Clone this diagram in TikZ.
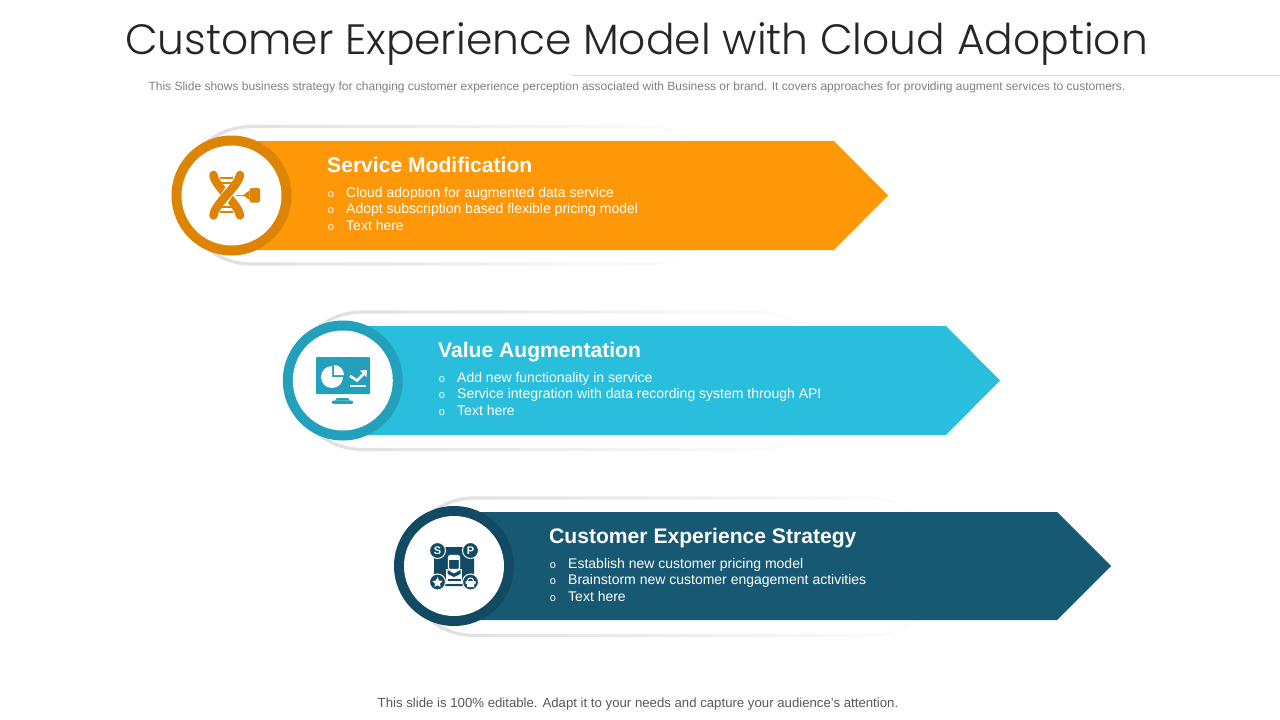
\documentclass[tikz,border=0pt]{standalone}
\usepackage{fontspec}
\setmainfont{Liberation Sans}
\newfontfamily\titlefont{Poppins Light}
\usetikzlibrary{fadings}
\definecolor{orangefill}{HTML}{FF9808}
\definecolor{orangering}{HTML}{DD8404}
\definecolor{bluefill}{HTML}{29BFDC}
\definecolor{bluering}{HTML}{22A0BC}
\definecolor{navyfill}{HTML}{175873}
\definecolor{navyring}{HTML}{134A63}
\definecolor{pillgray}{HTML}{DEDEDE}
\tikzset{
  pill/.style={draw=pillgray, line width=3.2pt, path fading=east},
  headtxt/.style={anchor=base west, inner sep=0pt, white, font=\fontsize{21.1}{23}\selectfont\bfseries},
  itemtxt/.style={anchor=base west, inner sep=0pt, white, font=\fontsize{14}{16}\selectfont},
  dottxt/.style={anchor=base, inner sep=0pt, white, font=\fontsize{11}{12}\selectfont},
  rung/.style={line width=2pt, orangering},
  strand/.style={line width=8.5pt, orangering, line cap=round},
}
\begin{document}
\begin{tikzpicture}[x=1pt, y=-1pt]
\useasboundingbox (0,0) rectangle (1280,720);
\fill[white] (0,0) rectangle (1280,720);

% header
\node[anchor=base, inner sep=0pt, text=black!85, font=\titlefont\fontsize{42.4}{50}\selectfont] (title) at (636.5,54) {Customer Experience Model with Cloud Adoption};
\draw[black!15, line width=0.8pt] (571,75.5) -- (1280,75.5);
\node[anchor=base, inner sep=0pt, text=black!50, font=\fontsize{12}{14}\selectfont] (subtitle) at (637,90) {This Slide shows business strategy for changing customer experience perception associated with Business or brand. It covers approaches for providing augment services to customers.};
\node[anchor=base, inner sep=0pt, text=black!65, font=\fontsize{13.2}{15}\selectfont] (footer) at (638,707) {This slide is 100\% editable. Adapt it to your needs and capture your audience's attention.};

% pills
\draw[pill] (251,126.6) -- (647,126.6) arc[start angle=-90, end angle=90, radius=68.7] -- (251,264) arc[start angle=90, end angle=270, radius=68.7] -- cycle;
\draw[pill] (362,312) -- (758,312) arc[start angle=-90, end angle=90, radius=68.7] -- (362,449.4) arc[start angle=90, end angle=270, radius=68.7] -- cycle;
\draw[pill] (474,498) -- (870,498) arc[start angle=-90, end angle=90, radius=68.7] -- (474,635.4) arc[start angle=90, end angle=270, radius=68.7] -- cycle;

% arrows
\fill[orangefill] (240,141) -- (834,141) -- (888,195.5) -- (834,250) -- (240,250) -- cycle;
\fill[bluefill] (350,326) -- (946,326) -- (1000,380.5) -- (946,435) -- (350,435) -- cycle;
\fill[navyfill] (460,512) -- (1057,512) -- (1111,566) -- (1057,620) -- (460,620) -- cycle;

% rings
\fill[orangering] (231.5,195.5) circle[radius=60];
\fill[white] (231.5,195.5) circle[radius=50];
\fill[bluering] (342.8,380.5) circle[radius=60];
\fill[white] (342.8,380.5) circle[radius=50];
\fill[navyring] (454,566) circle[radius=60];
\fill[white] (454,566) circle[radius=50];

% first row
\node[headtxt] (head1) at (327,172.5) {Service Modification};
\node[dottxt] (dot1a) at (331,197) {o};
\node[dottxt] (dot1b) at (331,213.5) {o};
\node[dottxt] (dot1c) at (331,230) {o};
\node[itemtxt] (item1a) at (346,197) {Cloud adoption for augmented data service};
\node[itemtxt] (item1b) at (346,213.5) {Adopt subscription based flexible pricing model};
\node[itemtxt] (item1c) at (346,230) {Text here};

% second row
\node[headtxt] (head2) at (438,357.5) {Value Augmentation};
\node[dottxt] (dot2a) at (442,382) {o};
\node[dottxt] (dot2b) at (442,398.5) {o};
\node[dottxt] (dot2c) at (442,415) {o};
\node[itemtxt] (item2a) at (457,382) {Add new functionality in service};
\node[itemtxt] (item2b) at (457,398.5) {Service integration with data recording system through API};
\node[itemtxt] (item2c) at (457,415) {Text here};

% third row
\node[headtxt] (head3) at (549,543) {Customer Experience Strategy};
\node[dottxt] (dot3a) at (553,568) {o};
\node[dottxt] (dot3b) at (553,584.5) {o};
\node[dottxt] (dot3c) at (553,601) {o};
\node[itemtxt] (item3a) at (568,568) {Establish new customer pricing model};
\node[itemtxt] (item3b) at (568,584.5) {Brainstorm new customer engagement activities};
\node[itemtxt] (item3c) at (568,601) {Text here};

% helix icon
\draw[strand] (213.5,175) .. controls (215,187) and (238,203) .. (240,215.5);
\draw[white, line width=10.5pt] (232,187) -- (221,204);
\draw[strand] (240,175) .. controls (238,187) and (215,203) .. (213.5,215.5);
\draw[rung] (220,178) -- (233,178);
\draw[rung] (220,183) -- (233,183);
\draw[rung] (220,207) -- (233,207);
\draw[rung] (220,212) -- (233,212);
\fill[orangering, rounded corners=1.5pt] (249.5,188) rectangle (260,202.5);
\fill[orangering] (249.5,190.5) -- (243,195.2) -- (249.5,200) -- cycle;
\draw[orangering, line width=1.2pt] (236,195.2) -- (244,195.2);

% monitor icon
\fill[bluering, rounded corners=1pt] (316,357) rectangle (370,394);
\fill[bluering] (337,398) -- (348,398) -- (350,400.5) -- (335,400.5) -- cycle;
\fill[bluering, rounded corners=1pt] (332,400.5) rectangle (353,403.8);
\fill[white] (332,377) -- (332,366) arc[start angle=-90, end angle=-360, radius=11] -- cycle;
\fill[white] (334,375) -- (334,365) arc[start angle=-90, end angle=0, radius=10] -- cycle;
\draw[white, line width=2.6pt] (350,376) -- (357,380.5) -- (365.5,372);
\fill[white] (367,370) -- (360,370.5) -- (366.5,377) -- cycle;
\draw[white, line width=2.6pt] (350,386) -- (366,386);

% customer icon
\fill[navyring, rounded corners=7pt] (434,547) rectangle (474,586);
\fill[navyring, draw=white, line width=1pt] (437.5,550.5) circle[radius=8];
\fill[navyring, draw=white, line width=1pt] (470.5,550.5) circle[radius=8];
\fill[navyring, draw=white, line width=1pt] (437.5,582) circle[radius=8];
\fill[navyring, draw=white, line width=1pt] (470.5,582) circle[radius=8];
\node[inner sep=0pt, white, font=\fontsize{11}{12}\selectfont\bfseries] (dollar) at (437.5,550.5) {S};
\node[inner sep=0pt, white, font=\fontsize{11}{12}\selectfont\bfseries] (flag) at (470.5,550.5) {P};
\fill[white] (437.5,577) -- (439,580.5) -- (442.5,581) -- (440,583.5) -- (440.5,587) -- (437.5,585.2) -- (434.5,587) -- (435,583.5) -- (432.5,581) -- (436,580.5) -- cycle;
\fill[white] (465.5,581) rectangle (475.5,584) (467,584) rectangle (474,587);
\draw[white, line width=1pt] (467.5,581) arc[start angle=180, end angle=360, radius=3];
\fill[white] (446,569) rectangle (462,584);
\fill[navyring] (447.5,570) -- (454,573.5) -- (460.5,570) -- (460.5,574) -- (454,577) -- (447.5,574) -- cycle;
\fill[navyring] (447.5,579) rectangle (460.5,581);
\fill[navyring, draw=white, line width=1.2pt, rounded corners=2pt] (448.5,555.5) rectangle (459.5,569.5);
\fill[white] (448.5,555.5) rectangle (459.5,559.5);
\end{tikzpicture}
\end{document}
